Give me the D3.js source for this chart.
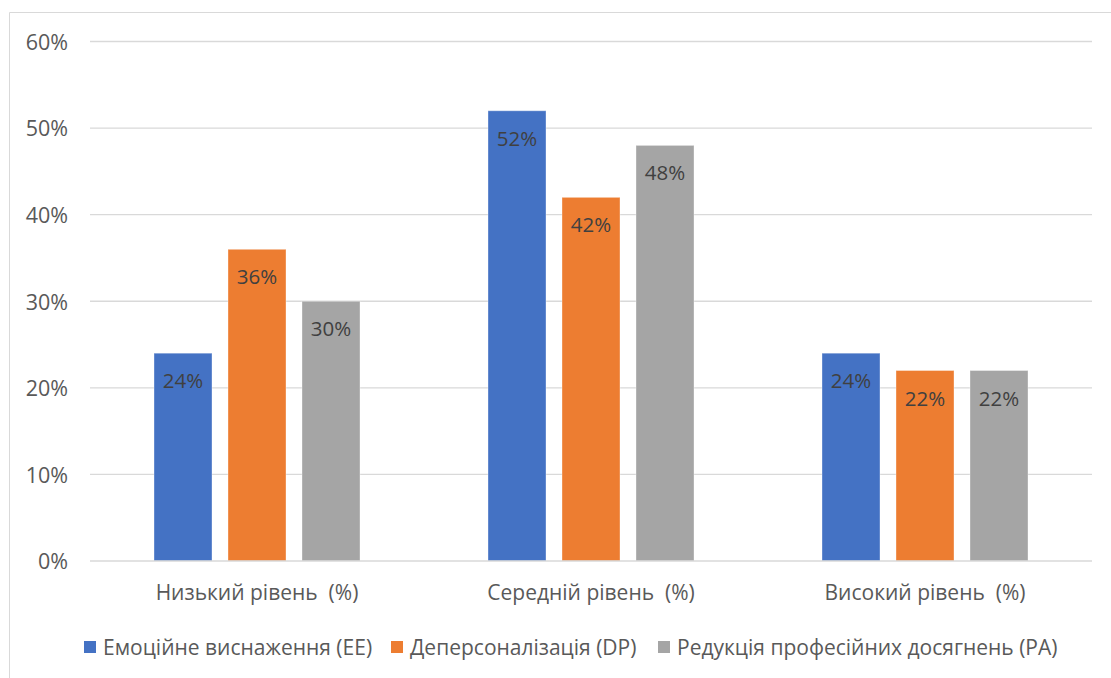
<!DOCTYPE html>
<html>
<head>
<meta charset="utf-8">
<script src="https://cdn.jsdelivr.net/npm/d3@7"></script>
<style>
  html, body { margin: 0; padding: 0; background: #fff; }
  svg { display: block; font-family: "Open Sans", "Noto Sans", sans-serif; }
</style>
</head>
<body>
<svg id="chart" width="1111" height="678"></svg>
<script>
// Burnout levels by component
const categories = ["Низький рівень  (%)", "Середній рівень  (%)", "Високий рівень  (%)"];
const seriesNames = ["Емоційне виснаження (ЕЕ)", "Деперсоналізація (DP)", "Редукція професійних досягнень (PA)"];
const valuesEE = [24, 52, 24];
const valuesDP = [36, 42, 22];
const valuesPA = [30, 48, 22];
const yTicks = [0, 10, 20, 30, 40, 50, 60];
const colors = ["#4472C4", "#ED7D31", "#A5A5A5"];

const seriesValues = [valuesEE, valuesDP, valuesPA];

const svg = d3.select("#chart");
const W = 1111, H = 678;
const FONT = "'Open Sans', 'Noto Sans', sans-serif";

// chart frame
svg.append("path")
  .attr("d", `M9.5,${H} V12.5 H${W}`)
  .attr("fill", "none")
  .attr("stroke", "#d9d9d9")
  .attr("stroke-width", 1);

const plot = { left: 90, right: 1092, top: 41.5, bottom: 561 };

const x = d3.scaleBand()
  .domain(categories)
  .range([plot.left, plot.right])
  .paddingInner(0)
  .paddingOuter(0);

const y = d3.scaleLinear()
  .domain([0, 60])
  .range([plot.bottom, plot.top]);

// bars inside each category: 3 bars of width 58 with gaps of 16
const barW = 58, barGap = 16;
const groupW = seriesValues.length * barW + (seriesValues.length - 1) * barGap;
const xs = d3.scaleBand()
  .domain(d3.range(seriesValues.length))
  .range([0, groupW])
  .paddingInner(barGap / (barW + barGap));

// gridlines
svg.append("g").selectAll("line")
  .data(yTicks.filter(t => t > 0))
  .join("line")
  .attr("x1", plot.left).attr("x2", plot.right)
  .attr("y1", d => y(d)).attr("y2", d => y(d))
  .attr("stroke", "#d9d9d9")
  .attr("stroke-width", 1.3);

// y axis labels
const yAxis = d3.axisLeft(y)
  .tickValues(yTicks)
  .tickFormat(d => d + "%")
  .tickSize(0)
  .tickPadding(0);
const yg = svg.append("g")
  .attr("transform", `translate(68,0)`)
  .call(yAxis);
yg.select(".domain").remove();
yg.selectAll("text")
  .attr("fill", "#595959")
  .attr("font-size", 21.5)
  .attr("font-family", FONT)
  .attr("dy", "0.36em");

// bars
const groups = svg.append("g").selectAll("g")
  .data(categories)
  .join("g")
  .attr("transform", d => `translate(${x(d) + (x.bandwidth() - groupW) / 2},0)`);

groups.each(function(cat, ci) {
  const g = d3.select(this);
  seriesValues.forEach((vals, si) => {
    const v = vals[ci];
    g.append("rect")
      .attr("x", xs(si))
      .attr("y", y(v))
      .attr("width", xs.bandwidth())
      .attr("height", y(0) - y(v))
      .attr("fill", colors[si])
      .attr("stroke", "rgba(255,255,255,0.35)")
      .attr("stroke-width", 1);
    g.append("text")
      .attr("x", xs(si) + xs.bandwidth() / 2)
      .attr("y", y(v) + 35)
      .attr("text-anchor", "middle")
      .attr("fill", "#404040")
      .attr("font-size", 20.5)
      .text(v + "%");
  });
});

// axis baseline
svg.append("line")
  .attr("x1", plot.left).attr("x2", plot.right)
  .attr("y1", plot.bottom).attr("y2", plot.bottom)
  .attr("stroke", "#d9d9d9")
  .attr("stroke-width", 1.3);

// category labels
const xAxis = d3.axisBottom(x).tickSize(0).tickPadding(0);
const xg = svg.append("g")
  .attr("transform", `translate(0,600)`)
  .call(xAxis);
xg.select(".domain").remove();
xg.selectAll("text")
  .attr("fill", "#595959")
  .attr("font-size", 21)
  .attr("font-family", FONT)
  .attr("y", 0)
  .attr("dy", 0)
  .style("white-space", "pre");

// legend
const legendX = [84, 391, 658];
const legend = svg.append("g");
seriesNames.forEach((name, i) => {
  legend.append("rect")
    .attr("x", legendX[i]).attr("y", 641)
    .attr("width", 12).attr("height", 12)
    .attr("fill", colors[i]);
  legend.append("text")
    .attr("x", legendX[i] + 19).attr("y", 655)
    .attr("fill", "#595959")
    .attr("font-size", 21)
    .text(name);
});
</script>
</body>
</html>
